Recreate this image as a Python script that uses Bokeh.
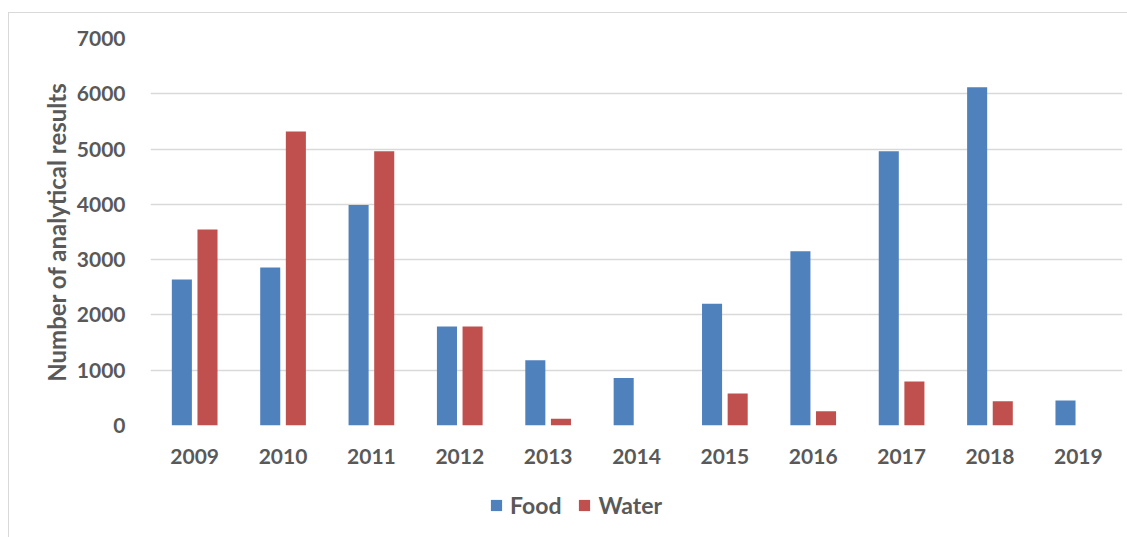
from bokeh.plotting import figure
from bokeh.layouts import column
from bokeh.models import FactorRange, FixedTicker, Legend, LegendItem, ColumnDataSource
from bokeh.transform import dodge
from bokeh.embed import file_html
from bokeh.resources import INLINE

years = ["2009", "2010", "2011", "2012", "2013", "2014", "2015", "2016", "2017", "2018", "2019"]
food = [2640, 2860, 3990, 1790, 1180, 860, 2200, 3150, 4960, 6120, 450]
water = [3545, 5320, 4960, 1790, 120, 0, 580, 260, 795, 440, 0]
y_ticks = [0, 1000, 2000, 3000, 4000, 5000, 6000, 7000]
series_names = ["Food", "Water"]

FONT = "Lato"
TXT = "#595959"
BLUE = "#4F81BD"
RED = "#C0504D"
COLORS = [BLUE, RED]

src = ColumnDataSource(dict(year=years, food=food, water=water))

p = figure(
    x_range=FactorRange(*years, range_padding=0),
    y_range=(0, 7000),
    width=1118, height=453,
    output_backend="svg", toolbar_location=None,
    min_border_left=141, min_border_right=5, min_border_top=25, min_border_bottom=20,
)
p.outline_line_color = None
p.background_fill_color = "white"
p.border_fill_color = "white"

r1 = p.vbar(x=dodge("year", -0.145, range=p.x_range), top="food", width=0.227,
            source=src, fill_color=BLUE, line_color=None)
r2 = p.vbar(x=dodge("year", 0.145, range=p.x_range), top="water", width=0.227,
            source=src, fill_color=RED, line_color=None)

p.xgrid.grid_line_color = None
p.ygrid.grid_line_color = "#d9d9d9"
p.ygrid.grid_line_width = 1.5
p.ygrid.ticker = FixedTicker(ticks=y_ticks)

p.yaxis.ticker = FixedTicker(ticks=y_ticks)
p.yaxis.axis_line_color = None
p.yaxis.major_tick_line_color = None
p.yaxis.minor_tick_line_color = None
p.yaxis.major_label_text_font = FONT
p.yaxis.major_label_text_font_style = "bold"
p.yaxis.major_label_text_font_size = "21px"
p.yaxis.major_label_text_color = TXT
p.yaxis.major_label_standoff = 19
p.yaxis.axis_label = "Number of analytical results"
p.yaxis.axis_label_text_font = FONT
p.yaxis.axis_label_text_font_style = "bold"
p.yaxis.axis_label_text_font_size = "24px"
p.yaxis.axis_label_text_color = TXT
p.yaxis.axis_label_standoff = 3

p.xaxis.axis_line_color = None
p.xaxis.major_tick_line_color = None
p.xaxis.minor_tick_line_color = None
p.xaxis.major_label_text_font = FONT
p.xaxis.major_label_text_font_style = "bold"
p.xaxis.major_label_text_font_size = "21px"
p.xaxis.major_label_text_color = TXT
p.xaxis.major_label_standoff = 17

# legend strip below the chart (its frame is aligned with the chart's frame)
lg = figure(width=1118, height=71, output_backend="svg", toolbar_location=None,
            x_range=(0, 1), y_range=(0, 1),
            min_border_left=0, min_border_right=0, min_border_top=0, min_border_bottom=0)
lg.axis.visible = False
lg.grid.visible = False
lg.outline_line_color = None
lg.border_fill_color = "white"
# zero-height swatch renderers: they only provide the legend glyph colours
swatches = [lg.vbar(x=[0.5], top=[0], width=0.1, fill_color=c, line_color=None) for c in COLORS]

legend = Legend(
    items=[LegendItem(label=n, renderers=[r]) for n, r in zip(series_names, swatches)],
    orientation="horizontal",
    location=(339, 18),
    glyph_width=14, glyph_height=14,
    label_standoff=7, spacing=16, padding=0, margin=0,
    label_text_font=FONT, label_text_font_style="bold",
    label_text_font_size="23px", label_text_color=TXT,
    border_line_color=None, background_fill_alpha=0,
)
lg.add_layout(legend)

layout = column(p, lg, spacing=0)
layout.margin = (12, 0, 0, 8)
layout.styles = {"border-left": "1px solid #d9d9d9", "border-top": "1px solid #d9d9d9"}

open("out.html", "w").write(file_html(layout, INLINE))
